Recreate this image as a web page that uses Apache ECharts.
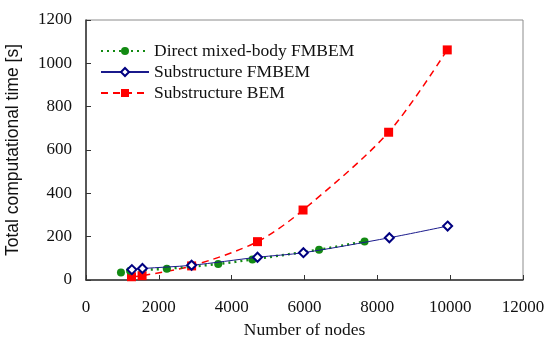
<!DOCTYPE html>
<html>
<head>
<meta charset="utf-8">
<script src="https://cdn.jsdelivr.net/npm/echarts@6/dist/echarts.min.js"></script>
<style>
html,body{margin:0;padding:0;background:#fff;}
#main{width:548px;height:338px;}
</style>
</head>
<body>
<div id="main"></div>
<script>
// data
var directNodes = [960, 1210, 2220, 3630, 4570, 6400, 7650];
var directTime = [35, 43, 52, 74, 95, 140, 178];
var subFmNodes = [1260, 1550, 2900, 4710, 5970, 8330, 9930];
var subFmTime = [48, 53, 68, 105, 126, 195, 249];
var subBemNodes = [1250, 1540, 2900, 4710, 5960, 8310, 9920];
var subBemTime = [15, 20, 65, 177, 323, 682, 1062];

function pairs(xs, ys) {
    var out = [];
    for (var i = 0; i < xs.length; i++) {
        out.push([xs[i], ys[i]]);
    }
    return out;
}

var myChart = echarts.init(document.getElementById('main'));

var serif = '"Liberation Serif", "Times New Roman", serif';

option = {
    animation: false,
    grid: {
        left: 86,
        right: 25,
        top: 20,
        bottom: 58,
        outerBoundsMode: 'none',
        containLabel: false,
        show: true,
        borderColor: '#8c8c8c',
        borderWidth: 1
    },
    legend: {
        orient: 'vertical',
        left: 95,
        top: 37,
        itemWidth: 48,
        itemHeight: 10,
        itemGap: 3,
        textStyle: {
            fontFamily: serif,
            fontSize: 17.5,
            color: '#111'
        },
        data: ['Direct mixed-body FMBEM', 'Substructure FMBEM', 'Substructure BEM']
    },
    xAxis: {
        type: 'value',
        min: 0,
        max: 12000,
        interval: 2000,
        name: 'Number of nodes',
        nameLocation: 'middle',
        nameGap: 41,
        nameTextStyle: {fontFamily: serif, fontSize: 17.5, color: '#111'},
        axisLine: {lineStyle: {color: '#333', width: 1.5}},
        axisTick: {inside: true, length: 5, lineStyle: {color: '#333'}},
        axisLabel: {
            fontFamily: serif, fontSize: 17, color: '#111', margin: 19,
            formatter: function (v) { return String(v); }
        },
        splitLine: {show: false}
    },
    yAxis: {
        type: 'value',
        min: 0,
        max: 1200,
        interval: 200,
        name: 'Total computational time [s]',
        nameLocation: 'middle',
        nameGap: 64,
        nameTextStyle: {fontFamily: '"Liberation Sans", Arial, sans-serif', fontSize: 17.5, color: '#111'},
        axisLine: {show: true, lineStyle: {color: '#333', width: 1.5}},
        axisTick: {show: true, inside: true, length: 5, lineStyle: {color: '#333'}},
        axisLabel: {
            fontFamily: serif, fontSize: 17, color: '#111', margin: 14,
            formatter: function (v) { return String(v); }
        },
        splitLine: {show: false}
    },
    series: [
        {
            name: 'Direct mixed-body FMBEM',
            type: 'line',
            smooth: 0.3,
            symbol: 'circle',
            symbolSize: 8,
            itemStyle: {color: '#138a13'},
            lineStyle: {color: '#138a13', width: 2.5, type: [2, 4]},
            z: 3,
            data: pairs(directNodes, directTime)
        },
        {
            name: 'Substructure FMBEM',
            type: 'line',
            smooth: 0.3,
            symbol: 'emptyDiamond',
            symbolSize: 9,
            itemStyle: {color: '#000080', borderWidth: 1.2},
            lineStyle: {color: '#1a1a8c', width: 1},
            z: 4,
            data: pairs(subFmNodes, subFmTime)
        },
        {
            name: 'Substructure BEM',
            type: 'line',
            smooth: 0.3,
            symbol: 'rect',
            symbolSize: 9,
            itemStyle: {color: '#ff0000'},
            lineStyle: {color: '#ff0000', width: 1.5, type: [7, 5]},
            z: 2,
            data: pairs(subBemNodes, subBemTime)
        }
    ]
};

myChart.setOption(option);
</script>
</body>
</html>
